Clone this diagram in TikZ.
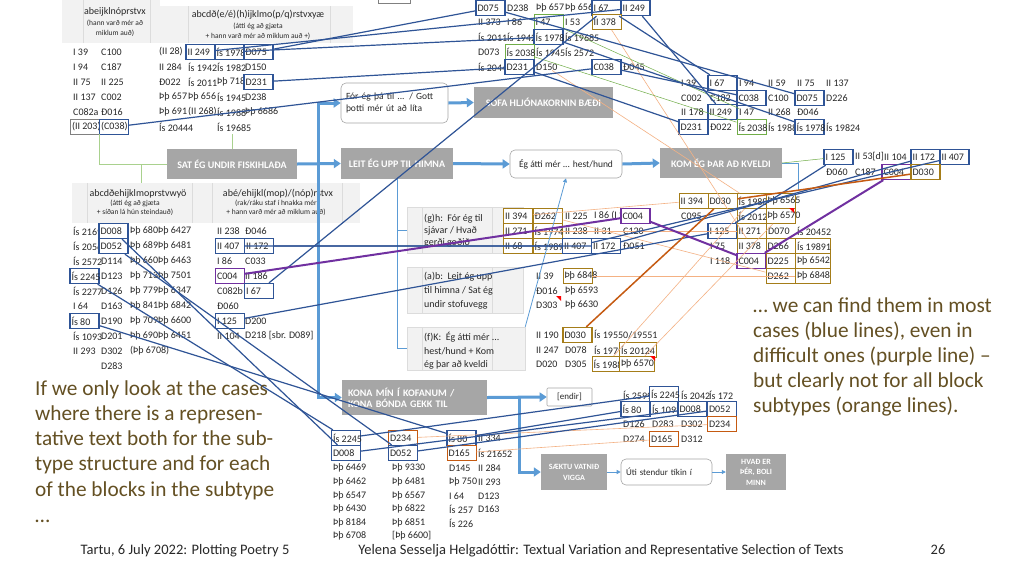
\documentclass[tikz,border=0pt]{standalone}
\usepackage{fontspec}
\setmainfont{Carlito}
\usetikzlibrary{arrows.meta}
\definecolor{dblue}{RGB}{47,84,150}
\definecolor{lblue}{RGB}{91,155,213}
\definecolor{purp}{RGB}{112,48,160}
\definecolor{olivec}{RGB}{165,125,25}
\definecolor{orng}{RGB}{197,90,17}
\definecolor{lorng}{RGB}{244,177,131}
\definecolor{grn}{RGB}{112,173,71}
\definecolor{lgrn}{RGB}{169,209,142}
\definecolor{boxgray}{RGB}{166,166,166}
\definecolor{hdr}{RGB}{242,242,242}
\definecolor{hdrline}{RGB}{220,220,220}
\definecolor{brn}{RGB}{100,80,35}
\definecolor{txt}{RGB}{40,40,40}
\newcommand\tcell[3]{\node[tx] at (#1,#2) {#3};}
\def\bxw{26pt}
\begin{document}
\begin{tikzpicture}[x=1pt,y=-1pt,
  tx/.style={anchor=west,inner sep=0pt,font=\fontsize{10}{11}\selectfont,text=txt},
  bxw/.store in=\bxw,
  bx/.style={draw,fill=white,line width=1.3pt,minimum height=15pt,inner sep=1.5pt,bxw=26pt,
    execute at begin node={\hbox to \bxw\bgroup},execute at end node={\hss\egroup},
    font=\fontsize{10}{11}\selectfont,text=txt},
  bb/.style={bx,draw=dblue},
  pb/.style={bx,draw=purp},
  ob/.style={bx,draw=olivec,line width=1pt},
  obt/.style={bx,draw=olivec,line width=0.7pt},
  gb/.style={bx,draw=grn,line width=1pt},
  rb/.style={bx,draw=orng,line width=1pt},
  grb/.style={bx,draw=gray,line width=0.5pt},
  hdrbox/.style={fill=hdr,draw=none,inner sep=0pt},
  hdrt/.style={inner sep=0pt,font=\fontsize{10}{12}\selectfont,text=txt},
  hdrs/.style={inner sep=0pt,font=\fontsize{7.5}{9}\selectfont,text=txt},
  gbox/.style={fill=boxgray,inner sep=0pt,text=white,font=\fontsize{10}{12}\selectfont\bfseries},
  rbox/.style={draw=boxgray,fill=white,rounded corners=5pt,line width=0.6pt,inner sep=0pt,font=\fontsize{9.5}{12}\selectfont,text=txt},
  subbox/.style={fill=hdr,draw=hdrline,line width=0.5pt,inner sep=0pt},
  subt/.style={anchor=west,inner sep=0pt,font=\fontsize{10}{12}\selectfont,text=txt},
  bigt/.style={anchor=base west,inner sep=0pt,font=\fontsize{21.3}{25}\selectfont,text=brn},
  foot/.style={anchor=base,inner sep=0pt,font=\fontsize{14.5}{16}\selectfont,text=txt},
  bl/.style={draw=dblue,line width=1.2pt},
  pl/.style={draw=purp,line width=2pt},
  ol/.style={draw=orng,line width=1.5pt},
  tol/.style={draw=lorng,line width=0.6pt},
  tgl/.style={draw=grn,line width=0.5pt},
  tree/.style={draw=lblue,line width=0.6pt},
  gtree/.style={draw=lgrn,line width=0.7pt},
  ar/.style={draw=lblue,line width=3pt,-{Triangle[length=7pt,width=9pt]}},
  tar/.style={draw=lblue,line width=0.8pt,-{Triangle[length=4pt,width=4pt]}}
]
\fill[white] (0,0) rectangle (1024,576);
\useasboundingbox (0,0) rectangle (1024,576);

% ---------- header boxes (top left)
\node[hdrbox,minimum width=98pt,minimum height=43pt] (h1) at (111,21.5) {};
\node[hdrbox,minimum width=196pt,minimum height=37pt] (h2) at (255,24.5) {};
\draw[hdrline] (83,0) -- (83,43) (150,0) -- (150,43) (188,6) -- (188,43) (330,6) -- (330,43);
\node[hdrt] at (115,12) {abeijklnóprstvx};
\node[hdrs] at (115,23) {(hann varð mér að};
\node[hdrs] at (115,33) {miklum auð)};
\node[hdrt] at (258,15) {abcdð(e/é)(h)ijklmo(p/q)rstvxyæ};
\node[hdrs] at (258,26) {(átti ég að gjæta};
\node[hdrs] at (258,36) {+ hann varð mér að miklum auð +)};
\draw[gray,line width=0.8pt] (378,-3) rectangle (410,3);

% ---------- top-left table
\tcell{73}{52}{I 39}\tcell{101}{52}{C100}\tcell{159}{52}{(II 28)}
\tcell{73}{67}{I 94}\tcell{101}{67}{C187}\tcell{159}{67}{II 284}\tcell{188}{67}{Ís 1942}\tcell{217}{67}{Ís 1982}\tcell{245}{67}{D150}
\tcell{73}{82}{II 75}\tcell{101}{82}{II 225}\tcell{159}{82}{Ð022}\tcell{188}{82}{Ís 2011}\tcell{217}{82}{Þþ 718}
\tcell{73}{97}{II 137}\tcell{101}{97}{C002}\tcell{159}{97}{Þþ 657}\tcell{188}{97}{Þþ 656}\tcell{217}{97}{Ís 1945}\tcell{245}{97}{D238}
\tcell{73}{112}{C082a}\tcell{101}{112}{Ð016}\tcell{159}{112}{Þþ 691}\tcell{188}{112}{(II 268)}\tcell{217}{112}{Ís 1988}\tcell{245}{112}{Þþ 6686}
\tcell{159}{127}{Ís 20444}\tcell{217}{127}{Ís 19685}
\node[bb] (tl249) at (200.5,52) {II 249};
\node[bb] (tl1978) at (229.5,52) {Ís 1978};
\node[bb] (tl075) at (258.5,52) {D075};
\node[bb] (tl231) at (258.5,82) {D231};
\node[grb] (tl203) at (85,127) {(II 203)};
\node[bb] (tl038) at (114,127) {(C038)};

% ---------- top-middle table
\tcell{507}{8}{D238}\tcell{536}{8}{Þþ 657}\tcell{565}{8}{Þþ 656}
\tcell{478}{22}{II 373}\tcell{507}{22}{I 86}\tcell{565}{22}{I 53}
\tcell{478}{37}{Ís 2011}\tcell{507}{37}{Ís 1942}\tcell{565}{37}{Ís 19685}
\tcell{478}{52}{D073}\tcell{536}{52}{Ís 1945}\tcell{565}{52}{Ís 2572}
\tcell{478}{67}{Ís 2044}\tcell{623}{67}{Ð045}
\node[tx] (tm150) at (536,67) {D150};
\node[bb] (tm075) at (490.5,8) {D075};
\node[bb] (tm67) at (606.5,8) {I 67};
\node[bb] (tm249) at (635.5,8) {II 249};
\node[gb] (tm47) at (548.5,22) {I 47};
\node[ob] (tm378) at (606.5,22) {II 378};
\node[bb] (tm1978) at (548.5,37) {Ís 1978};
\node[gb] (tm2038) at (519.5,52) {Ís 2038};
\node[bb] (tm231) at (519.5,67) {D231};
\node[bb] (tm038) at (606.5,67) {C038};

% ---------- top-right table
\tcell{681}{83}{I 39}\tcell{739}{83}{I 94}\tcell{768}{83}{II 59}\tcell{797}{83}{II 75}\tcell{826}{83}{II 137}
\tcell{681}{98}{C002}\tcell{710}{98}{C182}\tcell{768}{98}{C100}\tcell{826}{98}{D226}
\tcell{681}{112}{II 178}\tcell{768}{112}{II 268}\tcell{797}{112}{Ð046}
\node[tx] (tr47) at (739,112) {I 47};
\tcell{710}{127}{Ð022}\tcell{768}{127}{Ís 1988}\tcell{826}{127}{Ís 19824}
\node[bb] (tr67) at (722.5,83) {I 67};
\node[bb] (tr038) at (751.5,98) {C038};
\node[bb] (tr075) at (809.5,98) {D075};
\node[bb] (tr249) at (722.5,112) {II 249};
\node[bb] (tr231) at (693.5,127) {D231};
\node[gb] (tr2038) at (751.5,127) {Ís 2038};
\node[bb] (tr1978) at (809.5,127) {Ís 1978};

% ---------- right grid 2
\tcell{855}{157}{II 53[d]}\tcell{884}{157}{II 104}
\tcell{826}{172}{Ð060}\tcell{855}{172}{C187}
\node[bb] (r2125) at (838.5,157) {I 125};
\node[bb] (r2172) at (925.5,157) {II 172};
\node[bb] (r2407) at (954.5,157) {II 407};
\node[pb] (r2004) at (896.5,172) {C004};
\node[ob,line width=1.3pt] (r2030) at (925.5,172) {D030};

% ---------- right grid 3
\tcell{681}{216}{C095}
\tcell{768}{231}{D070}\tcell{797}{231}{Ís 20452}
\tcell{710}{246}{I 75}
\tcell{710}{261}{I 118}
\node[ob] (r3394) at (693.5,201) {II 394};
\node[ob] (r3030) at (722.5,201) {D030};
\node[obt] (r31988) at (751.5,201) {Ís 1988};
\node[obt] (r36565) at (780.5,201) {Þþ 6565};
\node[obt] (r32012) at (751.5,216) {Ís 2012};
\node[obt] (r36570) at (780.5,216) {Þþ 6570};
\node[bb] (r3125) at (722.5,231) {I 125};
\node[obt] (r3271) at (751.5,231) {II 271};
\node[obt] (r3378) at (751.5,246) {II 378};
\node[obt] (r3266) at (780.5,246) {D266};
\node[obt,bxw=32pt] (r319891) at (813,246) {Ís 19891};
\node[pb] (r3004) at (751.5,261) {C004};
\node[obt] (r3225) at (780.5,261) {D225};
\node[obt,bxw=32pt] (r36542) at (813,261) {Þþ 6542};
\node[obt] (r3262) at (780.5,276) {D262};
\node[obt,bxw=32pt] (r36848) at (813,276) {Þþ 6848};

% ---------- gray boxes and rounded boxes
\node[gbox,minimum width=130pt,minimum height=30pt] (sat) at (232,164) {SAT ÉG UNDIR FISKIHLAÐA};
\node[gbox,minimum width=112pt,minimum height=31pt] (leit) at (397,163.5) {LEIT ÉG UPP TIL HIMNA};
\node[gbox,minimum width=139pt,minimum height=31pt] (sofa) at (543.5,102.5) {SOFA HLJÓNAKORNIN BÆÐI};
\node[gbox,minimum width=122pt,minimum height=30pt] (kom) at (721,163) {KOM ÉG ÞAR AÐ KVELDI};
\node[gbox,minimum width=145pt,minimum height=35pt,text width=133pt,align=left] (kona) at (414.5,397.5) {KONA MÍN Í KOFANUM /\\[-1pt]KONA BÓNDA GEKK TIL};
\node[gbox,minimum width=66pt,minimum height=36pt,align=center,font=\fontsize{8}{11}\selectfont\bfseries] (saektu) at (574,472) {SÆKTU VATNIÐ\\VIGGA};
\node[gbox,minimum width=60pt,minimum height=36pt,align=center,font=\fontsize{8}{10.5}\selectfont\bfseries] (hvad) at (756,472) {HVAÐ ER\\ÞÉR, BOLI\\MINN};
\node[rbox,minimum width=107pt,minimum height=40pt,text width=97pt,align=left] (for) at (394.5,103) {Fór ég þá til ... / Gott\\þotti mér út að líta};
\node[rbox,minimum width=112pt,minimum height=28pt] (egatti) at (566,164) {Ég átti mér ... hest/hund};
\node[rbox,rounded corners=1pt,minimum width=45pt,minimum height=18pt,font=\fontsize{9}{11}\selectfont] (endir) at (569.5,397) {[endir]};
\node[rbox,minimum width=91pt,minimum height=26pt,text width=81pt,align=left,font=\fontsize{9}{11}\selectfont] (uti) at (666.5,472) {Úti stendur tíkin í};

% ---------- lower header boxes
\node[hdrbox,minimum width=128pt,minimum height=40pt] (h3) at (136,203) {};
\node[hdrbox,minimum width=160pt,minimum height=40pt] (h4) at (280,203) {};
\draw[hdrline] (87,183) -- (87,223) (192,183) -- (192,223) (212,183) -- (212,223) (342,183) -- (342,223);
\node[hdrt] at (138,194) {abcdðehijklmoprstvwyö};
\node[hdrs] at (135,203.5) {(átti ég að gjæta};
\node[hdrs] at (135,212.5) {+ síðan lá hún steindauð)};
\node[hdrt] at (278,194) {abé/ehijkl(mop)/(nóp)rstvx};
\node[hdrs] at (276,203.5) {(rak/ráku staf í hnakka mér};
\node[hdrs] at (276,212.5) {+ hann varð mér að miklum auð)};

% ---------- lower-left table
\tcell{73}{231}{Ís 2169}\tcell{130}{231}{Þþ 680}\tcell{158}{231}{Þþ 6427}\tcell{217}{231}{II 238}\tcell{245}{231}{Ð046}
\tcell{73}{246}{Ís 2056}\tcell{130}{246}{Þþ 689}\tcell{158}{246}{Þþ 6481}
\tcell{73}{261}{Ís 2572}\tcell{101}{261}{D114}\tcell{130}{261}{Þþ 660}\tcell{158}{261}{Þþ 6463}\tcell{217}{261}{I 86}\tcell{245}{261}{C033}
\tcell{101}{276}{D123}\tcell{130}{276}{Þþ 713}\tcell{158}{276}{Þþ 7501}\tcell{245}{276}{II 186}
\tcell{73}{291}{Ís 2277}\tcell{101}{291}{D126}\tcell{130}{291}{Þþ 779}\tcell{158}{291}{Þþ 6347}\tcell{217}{291}{C082b}
\tcell{73}{306}{I 64}\tcell{101}{306}{D163}\tcell{130}{306}{Þþ 841}\tcell{158}{306}{Þþ 6842}\tcell{217}{306}{Ð060}
\tcell{101}{321}{D190}\tcell{130}{321}{Þþ 709}\tcell{158}{321}{Þþ 6600}\tcell{245}{321}{D200}
\tcell{73}{336}{Ís 1093}\tcell{101}{336}{D201}\tcell{130}{336}{Þþ 690}\tcell{158}{336}{Þþ 6451}\tcell{217}{336}{II 104}\tcell{245}{336}{D218 [sbr. D089]}
\tcell{73}{351}{II 293}\tcell{101}{351}{D302}\tcell{130}{351}{(Þþ 6708)}
\tcell{101}{366}{D283}
\node[bb] (ll008) at (113.5,231) {D008};
\node[bb] (ll052) at (113.5,246) {D052};
\node[bb] (ll407) at (230,246) {II 407};
\node[bb] (ll172) at (259,246) {II 172};
\node[bb] (ll2245) at (84.5,276) {Ís 2245};
\node[pb] (ll004) at (230,276) {C004};
\node[bb] (ll67) at (259,291) {I 67};
\node[bb] (ll80) at (84.5,321) {Ís 80};
\node[bb] (ll125) at (230,321) {I 125};

% ---------- subtype boxes
\node[subbox,minimum width=116pt,minimum height=46pt] (sgh) at (465,230) {};
\node[subbox,minimum width=116pt,minimum height=46pt] (sab) at (465,290) {};
\node[subbox,minimum width=118pt,minimum height=43pt] (sfk) at (466,348.5) {};
\draw[hdrline] (422,207) -- (422,253) (492,207) -- (492,253) (422,267) -- (422,313) (492,267) -- (492,313) (422,327) -- (422,370) (492,327) -- (492,370);
\node[subt] at (424,219) {(g)h:\ \ Fór ég til};
\node[subt] at (424,231) {sjávar / Hvað};
\node[subt] at (424,243) {gerði goðið};
\node[subt] at (424,277) {(a)b:\ \ Leit ég upp};
\node[subt] at (424,291) {til himna / Sat ég};
\node[subt] at (424,305) {undir stofuvegg};
\node[subt] at (424,337) {(f)K:\ \ Ég átti mér ...};
\node[subt] at (424,351) {hest/hund + Kom};
\node[subt] at (424,365) {ég þar að kveldi};

% ---------- GH grid
\tcell{565}{216}{II 225}\tcell{594}{216}{I 86 (I 2}
\tcell{565}{231}{II 238}\tcell{594}{231}{II 31}\tcell{623}{231}{C120}
\tcell{623}{246}{Ð051}
\node[ob] (gh394) at (518,216) {II 394};
\node[ob] (gh262) at (547.5,216) {Ð262};
\node[pb] (gh004) at (635.5,216) {C004};
\node[ob] (gh271) at (518,231) {II 271};
\node[ob] (gh1974) at (547.5,231) {Ís 1974};
\node[ob] (gh68) at (518,246) {II 68};
\node[ob] (gh1989) at (547.5,246) {Ís 1989};
\node[bb] (gh407) at (577,246) {II 407};
\node[bb] (gh172) at (606,246) {II 172};

% ---------- AB grid
\tcell{536}{276}{II 39}
\tcell{536}{291}{Ð016}\tcell{565}{291}{Þþ 6593}
\tcell{536}{305}{D303}\tcell{565}{305}{Þþ 6630}
\node[obt] (ab6848) at (577.5,276) {Þþ 6848};

% ---------- FK grid
\tcell{536}{335}{II 190}\tcell{594}{335}{Ís 19550/19551}
\tcell{536}{350}{II 247}\tcell{565}{350}{D078}\tcell{594}{350}{Ís 1979}
\tcell{536}{364}{D020}\tcell{565}{364}{D305}
\node[ob,line width=1.3pt] (fk030) at (577.5,335) {D030};
\node[ob,bxw=34pt] (fk20124) at (638,350) {Ís 20124};
\node[ob] (fk1988) at (606.5,364) {Ís 1988};
\node[ob,bxw=32pt] (fk6570) at (637,364) {Þþ 6570};

% ---------- bottom-middle table
\tcell{478}{438}{II 334}
\tcell{478}{453}{Ís 21652}
\tcell{333}{468}{Þþ 6469}\tcell{392}{468}{Þþ 9330}\tcell{449}{468}{D145}\tcell{478}{468}{II 284}
\tcell{333}{482}{Þþ 6462}\tcell{392}{482}{Þþ 6481}\tcell{449}{482}{Þþ 750}\tcell{478}{482}{II 293}
\tcell{333}{496}{Þþ 6547}\tcell{392}{496}{Þþ 6567}\tcell{449}{496}{I 64}\tcell{478}{496}{D123}
\tcell{333}{509}{Þþ 6430}\tcell{392}{509}{Þþ 6822}\tcell{449}{509}{Ís 257}\tcell{478}{509}{D163}
\tcell{333}{523}{Þþ 8184}\tcell{392}{523}{Þþ 6851}\tcell{449}{523}{Ís 226}
\tcell{333}{536}{Þþ 6708}\tcell{392}{536}{[Þþ 6600]}
\node[bb] (bm2245) at (346,438) {Ís 2245};
\node[rb] (bm234) at (403,438) {D234};
\node[bb] (bm80) at (461.5,438) {Ís 80};
\node[bb] (bm008) at (346,453) {D008};
\node[bb] (bm052) at (403,453) {D052};
\node[rb] (bm165) at (461.5,453) {D165};

% ---------- bottom-right table
\tcell{623}{395}{Ís 2599}\tcell{681}{395}{Ís 2042}\tcell{709}{395}{Ís 172}
\tcell{652}{409}{Ís 1093}
\tcell{623}{424}{D126}\tcell{652}{424}{D283}\tcell{681}{424}{D302}
\tcell{623}{439}{D274}\tcell{681}{439}{D312}
\node[bb] (br2245) at (664,394) {Ís 2245};
\node[bb] (br80) at (635.5,409) {Ís 80};
\node[bb] (br008) at (692.5,409) {D008};
\node[bb] (br052) at (722,409) {D052};
\node[rb] (br234) at (722,424) {D234};
\node[rb] (br165) at (664,439) {D165};

% ---------- red comment marks
\fill[red] (556,296) -- (561,296) -- (561,301) -- cycle;
\fill[red] (650,356) -- (655,356) -- (655,361) -- cycle;
\fill[red] (789,208) -- (794,208) -- (794,213) -- cycle;

% ---------- trees
\coordinate (g1) at (99,134);
\coordinate (g2) at (232,134);
\coordinate (g3) at (141,164);
\coordinate (g4) at (141,183);
\draw[gtree] (g1) |- (sat.west);
\draw[gtree] (g2) -- (sat.north);
\draw[gtree] (g3) -- (g4);
\draw[tree] (leit.south) |- (sgh.west);
\draw[tree] (leit.south) |- (sfk.west);
\coordinate (kt) at (798,190);
\draw[tree] (kom.east) -| (kt);
\draw[tar] (sfk.north east) -- (egatti.south);

% ---------- thick flow arrows
\coordinate (jn) at (318,164);
\coordinate (jn2) at (519,397.5);
\draw[ar] (sat.east) -- (leit.west);
\draw[ar] (jn) |- (for.west);
\draw[ar] (jn) |- (kona.west);
\draw[ar] (for.east) -- (sofa.west);
\draw[ar] (leit.east) -- (egatti.west);
\draw[ar] (egatti.east) -- (kom.west);
\draw[ar] (kona.east) -- (endir.west);
\draw[ar] (jn2) |- (saektu.west);
\draw[tar] (saektu.east) -- (uti.west);
\draw[tar] (uti.east) -- (hvad.west);

% ---------- thin orange / green links
\draw[tol] (gh394) -- (r3394);
\draw[tol] (gh262) -- (r3262);
\draw[tol] (gh271) -- (r3271);
\draw[tol] (ab6848) -- (r36848);
\draw[tol] (fk1988) -- (r31988);
\draw[tol] (fk6570) -- (r36570);
\draw[tol] (tm378) -- (r3378);
\draw[tol] (tm150) -- (r31988);
\draw[tol] (bm234) -- (br234);
\draw[tol] (bm165) -- (br165);
\draw[tgl] (tm47) -- (tr47);
\draw[tgl] (tm2038) -- (tr2038);
\draw[tgl] (kom.east) -- (r2125);

% ---------- blue links
\draw[bl] (tl075) -- (tm075) -- (tr075);
\draw[bl] (tl249) -- (tm249) -- (tr249);
\draw[bl] (tl1978) -- (tm1978) -- (tr1978);
\draw[bl] (tl231) -- (tm231) -- (tr231);
\draw[bl] (tl038) -- (tm038) -- (tr038);
\draw[bl] (ll67) -- (tm67) -- (tr67);
\draw[bl] (ll407) -- (gh407) -- (r2407);
\draw[bl] (ll172) -- (gh172) -- (r2172);
\draw[bl] (ll125) -- (r3125) -- (r2125);
\draw[bl] (ll008) -- (bm008) -- (br008);
\draw[bl] (ll052) -- (bm052) -- (br052);
\draw[bl] (ll2245) -- (bm2245) -- (br2245);
\draw[bl] (ll80) -- (bm80) -- (br80);
\draw[ol] (fk030) -- (r3030) -- (r2030);
\draw[pl] (ll004) -- (gh004) -- (r3004) -- (r2004);

% ---------- big texts
\node[bigt] at (35,395) {If we only look at the cases};
\node[bigt] at (35,420) {where there is a represen-};
\node[bigt] at (35,445) {tative text both for the sub-};
\node[bigt] at (35,470) {type structure and for each};
\node[bigt] at (35,496) {of the blocks in the subtype};
\node[bigt] at (35,522) {…};
\node[bigt] at (753,312) {… we can find them in most};
\node[bigt] at (753,337) {cases (blue lines), even in};
\node[bigt] at (753,362) {difficult ones (purple line) –};
\node[bigt] at (753,387) {but clearly not for all block};
\node[bigt] at (753,412) {subtypes (orange lines).};

% ---------- footer
\node[foot] at (185,554) {Tartu, 6 July 2022: Plotting Poetry 5};
\node[foot] at (601,554) {Yelena Sesselja Helgadóttir: Textual Variation and Representative Selection of Texts};
\node[foot] at (938,554) {26};
\end{tikzpicture}
\end{document}
